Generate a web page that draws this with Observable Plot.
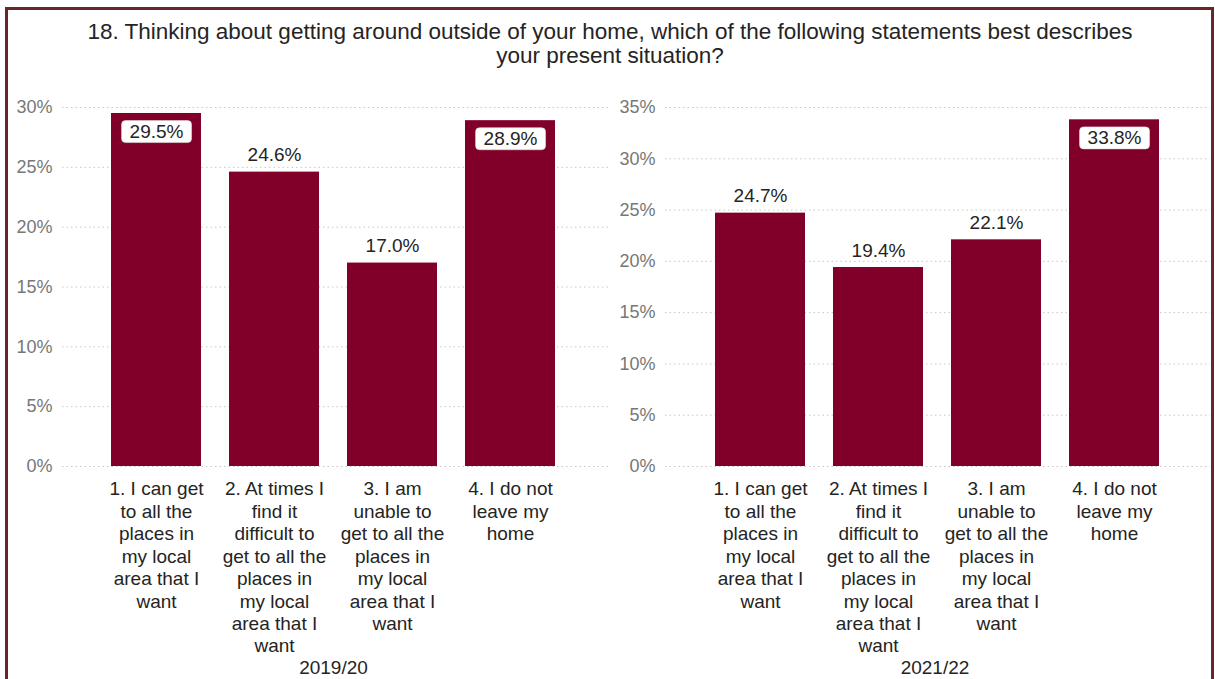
<!DOCTYPE html>
<html><head><meta charset="utf-8">
<script src="https://cdn.jsdelivr.net/npm/d3@7"></script>
<script src="https://cdn.jsdelivr.net/npm/@observablehq/plot@0.6"></script>
<style>
body{margin:0;background:#fff;width:1215px;height:679px;overflow:hidden;position:relative;font-family:"Liberation Sans",Arial,sans-serif;}
#frame{position:absolute;left:5px;top:7px;width:1203px;height:700px;border:3px solid #6a2626;}
#title{position:absolute;left:0;width:1220px;top:20px;text-align:center;font-size:22.5px;line-height:24px;color:#252423;}
#left{position:absolute;left:0;top:0}
#right{position:absolute;left:600px;top:0}
svg{overflow:visible}
</style></head><body>
<div id="frame"></div>
<div id="title">18. Thinking about getting around outside of your home, which of the following statements best describes<br>your present situation?</div>
<div id="left"></div><div id="right"></div>
<script>
const categories = [
  "1. I can get to all the places in my local area that I want",
  "2. At times I find it difficult to get to all the places in my local area that I want",
  "3. I am unable to get to all the places in my local area that I want",
  "4. I do not leave my home"
];
const categoryTickLabels = [
  "1. I can get\nto all the\nplaces in\nmy local\narea that I\nwant",
  "2. At times I\nfind it\ndifficult to\nget to all the\nplaces in\nmy local\narea that I\nwant",
  "3. I am\nunable to\nget to all the\nplaces in\nmy local\narea that I\nwant",
  "4. I do not\nleave my\nhome"
];
const years = ["2019/20", "2021/22"];
const values2019 = [29.5, 24.6, 17.0, 28.9];
const values2021 = [24.7, 19.4, 22.1, 33.8];
const yTicks2019 = [0, 5, 10, 15, 20, 25, 30];
const yTicks2021 = [0, 5, 10, 15, 20, 25, 30, 35];

const barColor = "#800029";
const textColor = "#252423";
const labelFor = Object.fromEntries(categories.map((c, i) => [c, categoryTickLabels[i]]));
const fmt = v => v.toFixed(1) + "%";

function panel(values, ticks, year, opts) {
  const ymax = ticks[ticks.length - 1];
  const data = categories.map((c, i) => ({cat: c, v: values[i]}));
  const inside = data.filter(d => d.v / ymax > 0.9);
  const outside = data.filter(d => d.v / ymax <= 0.9);
  const svg = Plot.plot({
    width: opts.width, height: 679,
    marginTop: 107, marginBottom: 213, marginLeft: opts.marginLeft, marginRight: opts.marginRight,
    style: {background: "transparent", fontFamily: "Liberation Sans, Arial, sans-serif", fontSize: "19px", color: textColor, overflow: "visible"},
    x: {domain: categories, range: opts.xRange, paddingInner: 0.24, paddingOuter: 0.4},
    y: {domain: [0, ymax]},
    marks: [
      Plot.gridY(ticks, {stroke: "#c8c8c8", strokeOpacity: 1, strokeDasharray: "1.5,3"}),
      Plot.barY(data, {x: "cat", y: "v", fill: barColor}),
      Plot.axisY(ticks, {tickSize: 0, tickPadding: 10, tickFormat: d => d + "%", fill: "#777", fontSize: 18, label: null}),
      Plot.axisX({tickSize: 0, tickPadding: 13, tickFormat: d => labelFor[d], lineHeight: 1.18, fontSize: 19, fill: textColor, label: null}),
      Plot.text(outside, {x: "cat", y: "v", text: d => fmt(d.v), dy: -17, fontSize: 19, fill: textColor}),
      Plot.text(inside, {x: "cat", y: "v", text: d => fmt(d.v), dy: 18, fontSize: 19, fill: textColor}),
      Plot.text([year], {frameAnchor: "bottom", dy: 207, dx: -3, fontSize: 19, fill: textColor})
    ]
  });
  document.getElementById(opts.id).appendChild(svg);
  const insideLabels = new Set(inside.map(d => fmt(d.v)));
  svg.querySelectorAll("text").forEach(t => {
    if (!insideLabels.has(t.textContent)) return;
    const b = t.getBBox();
    const r = document.createElementNS("http://www.w3.org/2000/svg", "rect");
    r.setAttribute("x", b.x - 8);
    r.setAttribute("y", b.y);
    r.setAttribute("width", b.width + 16);
    r.setAttribute("height", b.height + 1);
    r.setAttribute("rx", 4);
    r.setAttribute("fill", "#fff");
    r.setAttribute("stroke", "#ddd");
    r.setAttribute("stroke-width", 0.6);
    if (t.getAttribute("transform")) r.setAttribute("transform", t.getAttribute("transform"));
    t.parentNode.insertBefore(r, t);
  });
}

panel(values2019, yTicks2019, years[0], {id: "left", width: 612, marginLeft: 62, marginRight: 2, xRange: [62, 603]});
panel(values2021, yTicks2021, years[1], {id: "right", width: 612, marginLeft: 65, marginRight: 2, xRange: [66, 608]});
</script>
</body></html>
